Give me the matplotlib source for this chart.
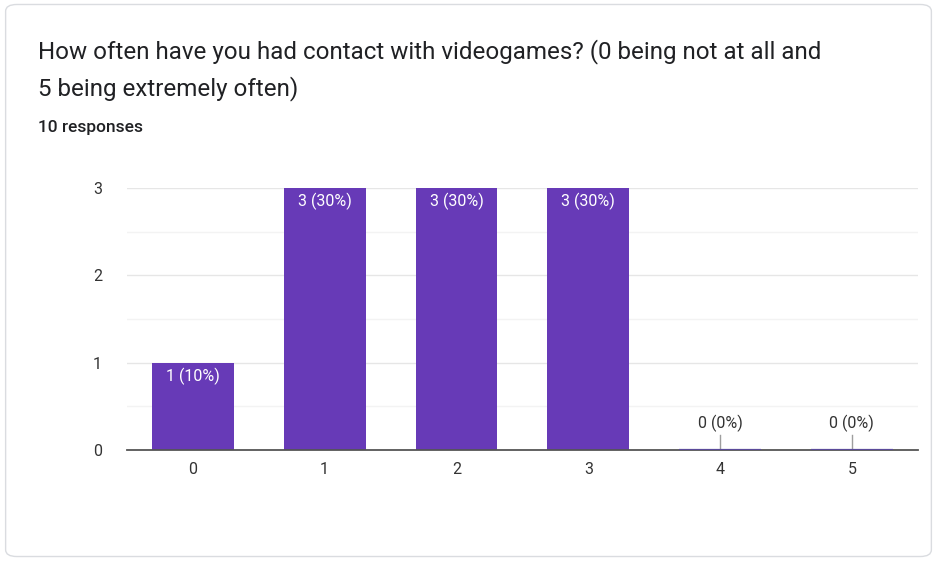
import numpy as np
import matplotlib

matplotlib.use("Agg")
import matplotlib.pyplot as plt
from matplotlib.patches import FancyBboxPatch

plt.rcParams["font.family"] = ["Roboto", "DejaVu Sans"]

categories = ["0", "1", "2", "3", "4", "5"]
counts = [1, 3, 3, 3, 0, 0]
total = 10
title = "How often have you had contact with videogames? (0 being not at all and\n5 being extremely often)"
subtitle = f"{total} responses"

purple = "#673AB7"

fig = plt.figure(figsize=(9.37, 5.61), dpi=100)
fig.patch.set_facecolor("white")

# card outline, kept behind everything else
card = FancyBboxPatch((0.006, 0.008), 0.988, 0.984,
                      boxstyle="round,pad=0,rounding_size=0.012",
                      transform=fig.transFigure, facecolor="white",
                      edgecolor="#dadce0", linewidth=1.0, zorder=-10)
fig.patches.append(card)

fig.text(0.041, 0.93, title, fontsize=17.4, color="#202124", va="top",
         linespacing=1.62)
fig.text(0.041, 0.773, subtitle, fontsize=12.5, color="#202124",
         fontweight="medium", va="center")

ax = fig.add_axes([0.1355, 0.198, 0.844, 0.467])
ax.set_facecolor("none")
x = np.arange(len(categories))
ax.bar(x, counts, width=0.62, color=purple, zorder=3)

for xi, c in zip(x, counts):
    label = f"{c} ({c / total:.0%})"
    if c > 0:
        ax.text(xi, c - 0.06, label, ha="center", va="top",
                color="white", fontsize=11.5, zorder=4)
    else:
        # zero bars: thin baseline stroke plus a leader tick
        ax.plot([xi - 0.31, xi + 0.31], [0, 0], color="#5a4a9a", lw=1.6,
                zorder=6, solid_capstyle="butt")
        ax.plot([xi, xi], [0, 0.17], color="#9e9e9e", lw=1, zorder=4)
        ax.text(xi, 0.2, label, ha="center", va="bottom",
                color="#333333", fontsize=11.5)

ax.set_xlim(-0.5, len(categories) - 0.5)
ax.set_ylim(0, 3)
ax.set_xticks(x)
ax.set_xticklabels(categories)
ax.set_yticks([0, 1, 2, 3])
ax.set_yticks(np.arange(0.5, 3, 1), minor=True)
ax.tick_params(axis="both", length=0, labelsize=11.5, colors="#333333")
ax.tick_params(axis="y", pad=18, which="major")
ax.tick_params(axis="x", pad=9)
ax.tick_params(axis="y", which="minor", length=0)
ax.grid(axis="y", which="major", color="#e6e6e6", lw=1, zorder=0)
ax.grid(axis="y", which="minor", color="#f3f3f3", lw=1, zorder=0)

for side in ["top", "right", "left"]:
    ax.spines[side].set_visible(False)
ax.spines["bottom"].set_color("#555555")
ax.spines["bottom"].set_linewidth(1.3)
ax.spines["bottom"].set_zorder(5)

fig.savefig("out.png", dpi=100, facecolor="white")
